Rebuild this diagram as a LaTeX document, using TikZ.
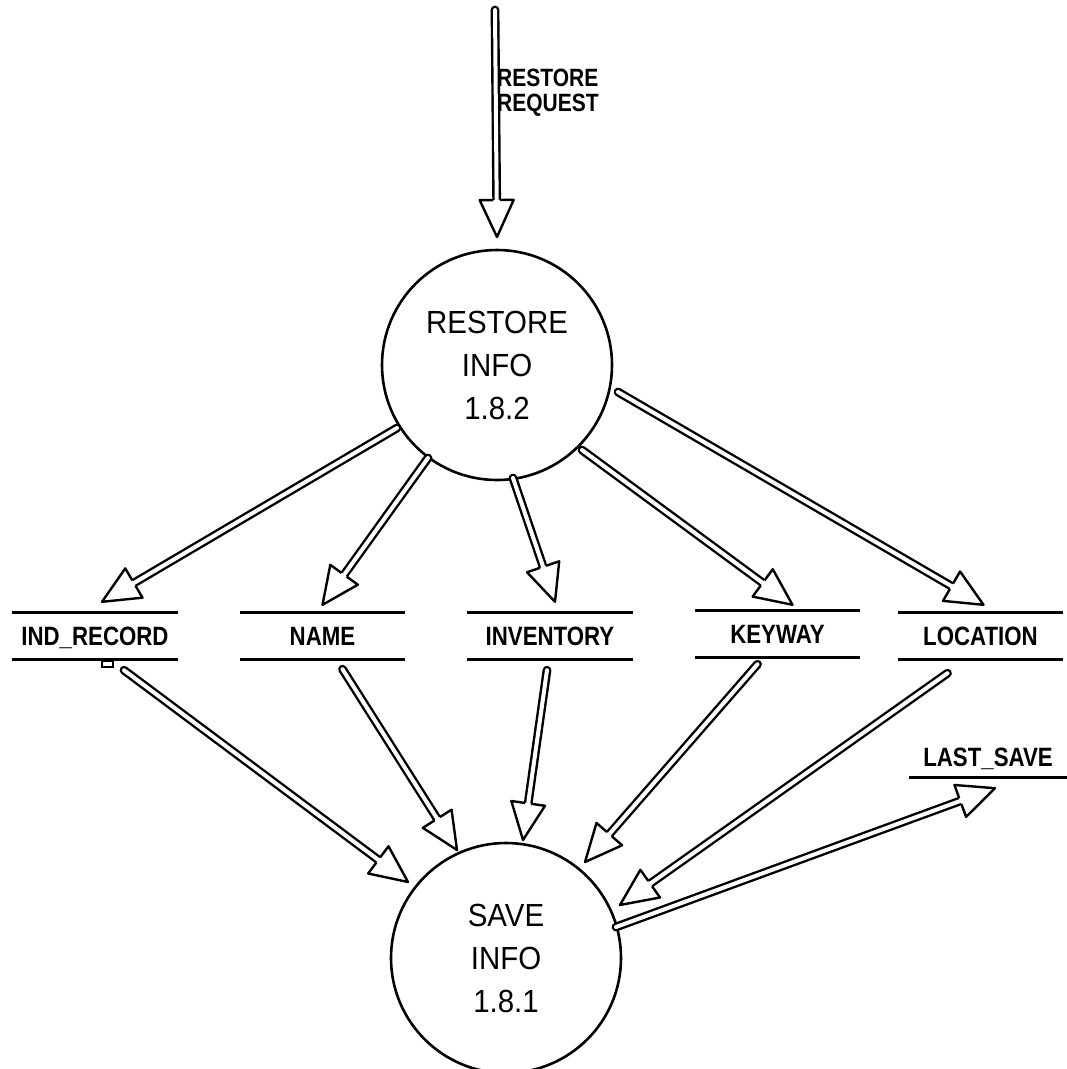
\documentclass[tikz,border=0pt]{standalone}
\usepackage{fontspec}
\setmainfont{Liberation Sans}
\newfontfamily\circfont[FakeStretch=0.92]{Liberation Sans}
\newfontfamily\storefont[FakeStretch=0.84]{Liberation Sans Bold}
\usetikzlibrary{calc}

% hollow-headed double-line data flow: #1 = start, #2 = tip
\newcommand\headlen{37pt}
\newcommand\headhw{17pt}
\newcommand\flowarrow[2]{%
  \coordinate (fs) at (#1);
  \coordinate (ft) at (#2);
  \coordinate (fb) at ($(ft)!\headlen!(fs)$);
  \draw[shaft] (fs) -- (fb);
  \fill[white] (ft) -- ($(fb)!\headhw!90:(ft)$) -- ($(fb)!\headhw!-90:(ft)$) -- cycle;
  \draw[headline] ($(fb)!3.2pt!90:(ft)$) -- ($(fb)!\headhw!90:(ft)$) -- (ft)
     -- ($(fb)!\headhw!-90:(ft)$) -- ($(fb)!3.2pt!-90:(ft)$);
}

\tikzset{
  shaft/.style={line width=2.4pt, double=white, double distance=4pt, line cap=round},
  headline/.style={line width=2.4pt, line join=round},
  proc/.style={circle, draw, line width=2.6pt, minimum size=230pt, inner sep=0pt,
    outer sep=0pt, align=center, font=\circfont\fontsize{32}{43}\selectfont},
  store/.style={minimum width=165pt, minimum height=46pt, inner sep=0pt,
    text height=19pt, text depth=0pt, font=\storefont\fontsize{26.5}{30}\selectfont},
  storeline/.style={line width=3pt},
}

\begin{document}
\begin{tikzpicture}[x=1pt, y=1pt]
\useasboundingbox (0,0) rectangle (1067,-1069);

% processes
\node[proc] (restore) at (497,-365) {RESTORE\\INFO\\1.8.2};
\node[proc] (save) at (506,-958) {SAVE\\INFO\\1.8.1};

% data stores
\node[store] (indrec) at (95,-636) {IND\_RECORD};
\node[store] (name) at (322.5,-636) {NAME};
\node[store] (inventory) at (550,-636) {INVENTORY};
\node[store] (keyway) at (777.5,-634) {KEYWAY};
\node[store] (location) at (980.5,-636) {LOCATION};
\node[store, minimum width=158pt, minimum height=40pt] (lastsave) at (988,-757) {LAST\_SAVE};

\foreach \s in {indrec,name,inventory,keyway,location}
  \draw[storeline] (\s.north west) -- (\s.north east) (\s.south west) -- (\s.south east);
\draw[storeline] (lastsave.south west) -- (lastsave.south east);
\draw[line width=1.2pt] (102,-661) rectangle (113,-667);

% incoming request
\coordinate (reqsrc) at (495,-10);
\flowarrow{reqsrc}{[yshift=13pt]restore.north}
\node[font=\storefont\fontsize{25}{25}\selectfont, align=left, inner sep=0pt,
  anchor=north west] (reqlabel) at (497,-69) {RESTORE\\REQUEST};

% restore to stores
\flowarrow{$(restore)+(-100,-63)$}{$(indrec.north)+(7,11)$}
\flowarrow{$(restore)+(-69,-93)$}{$(name.north)+(0,8)$}
\flowarrow{$(restore)+(16,-113)$}{$(inventory.north)+(5,11)$}
\flowarrow{$(restore)+(85,-85)$}{$(keyway.north)+(15,6)$}
\flowarrow{$(restore)+(121,-27)$}{$(location.north)+(3,8)$}

% stores to save
\flowarrow{$(indrec.south)+(29,-11)$}{$(save)+(-98,76)$}
\flowarrow{$(name.south)+(20,-10)$}{$(save)+(-49,108)$}
\flowarrow{$(inventory.south)+(-3,-11)$}{$(save)+(17,118)$}
\flowarrow{$(keyway.south)+(-20,-7)$}{$(save)+(79,96)$}
\flowarrow{$(location.south)+(-33,-14)$}{$(save)+(114,53)$}

% save to last save
\flowarrow{$(save)+(110,31)$}{$(lastsave.south)+(7,-11)$}
\end{tikzpicture}
\end{document}
